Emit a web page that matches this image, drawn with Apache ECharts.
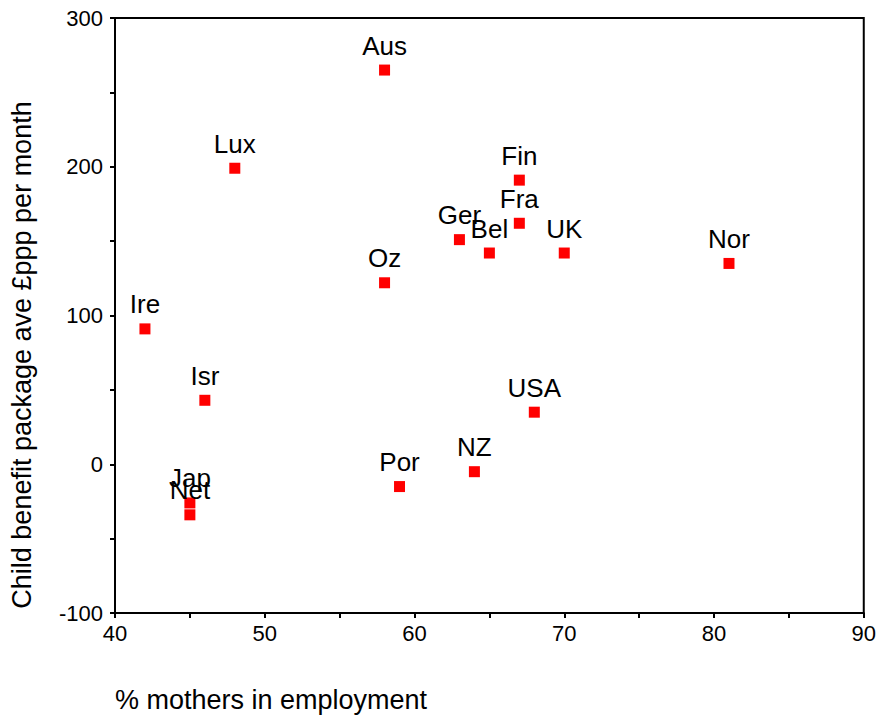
<!DOCTYPE html>
<html>
<head>
<meta charset="utf-8">
<script src="https://cdn.jsdelivr.net/npm/echarts@6/dist/echarts.min.js"></script>
<style>
  html, body { margin: 0; padding: 0; background: #fff; }
  #chart { width: 879px; height: 718px; }
</style>
</head>
<body>
<div id="chart"></div>
<script>
// values
const countries = ['Aus', 'Lux', 'Fin', 'Fra', 'Ger', 'Bel', 'UK', 'Nor', 'Oz', 'Ire', 'Isr', 'USA', 'NZ', 'Por', 'Jap', 'Net']
const mothersEmployed = [58, 48, 67, 67, 63, 65, 70, 81, 58, 42, 46, 68, 64, 59, 45, 45]
const benefitPackage = [265, 199, 191, 162, 151, 142, 142, 135, 122, 91, 43, 35, -5, -15, -26, -34]

const xTicks = [40, 50, 60, 70, 80, 90]
const yTicks = [-100, 0, 100, 200, 300]

const font = 'Liberation Sans, Arial, sans-serif'
const points = countries.map((c, i) => [mothersEmployed[i], benefitPackage[i], c])

const chart = echarts.init(document.getElementById('chart'), null, {renderer: 'svg'})
chart.setOption({
    animation: false,
    grid: {
        left: 115,
        right: 15,
        top: 18,
        bottom: 105,
        show: true,
        borderColor: '#000',
        borderWidth: 2
    },
    xAxis: {
        type: 'value',
        min: 40,
        max: 90,
        interval: 5,
        axisLine: {onZero: false, lineStyle: {color: '#000', width: 2}},
        axisTick: {length: 5, lineStyle: {color: '#000', width: 2}},
        splitLine: {show: false},
        axisLabel: {
            color: '#000',
            fontFamily: font,
            fontSize: 22,
            margin: 9,
            formatter: v => xTicks.includes(v) ? String(v) : ''
        }
    },
    yAxis: {
        type: 'value',
        min: -100,
        max: 300,
        interval: 50,
        axisLine: {onZero: false, lineStyle: {color: '#000', width: 2}},
        axisTick: {length: 5, lineStyle: {color: '#000', width: 2}},
        splitLine: {show: false},
        axisLabel: {
            color: '#000',
            fontFamily: font,
            fontSize: 22,
            margin: 12,
            formatter: v => yTicks.includes(v) ? String(v) : ''
        }
    },
    graphic: [
        {
            type: 'text',
            x: 22,
            y: 355,
            rotation: Math.PI / 2,
            style: {
                text: 'Child benefit package ave £ppp per month',
                fontFamily: font,
                fontSize: 27,
                fill: '#000',
                textAlign: 'center',
                textVerticalAlign: 'middle'
            }
        },
        {
            type: 'text',
            x: 115,
            y: 700,
            style: {
                text: '% mothers in employment',
                fontFamily: font,
                fontSize: 27,
                fill: '#000',
                textAlign: 'left',
                textVerticalAlign: 'middle'
            }
        }
    ],
    series: [
        {
            type: 'scatter',
            symbol: 'rect',
            symbolSize: 11,
            itemStyle: {color: '#ff0000', opacity: 1},
            data: points,
            label: {
                show: true,
                position: 'top',
                distance: 6,
                formatter: p => p.data[2],
                color: '#000',
                fontFamily: font,
                fontSize: 26
            }
        }
    ]
})
</script>
</body>
</html>
